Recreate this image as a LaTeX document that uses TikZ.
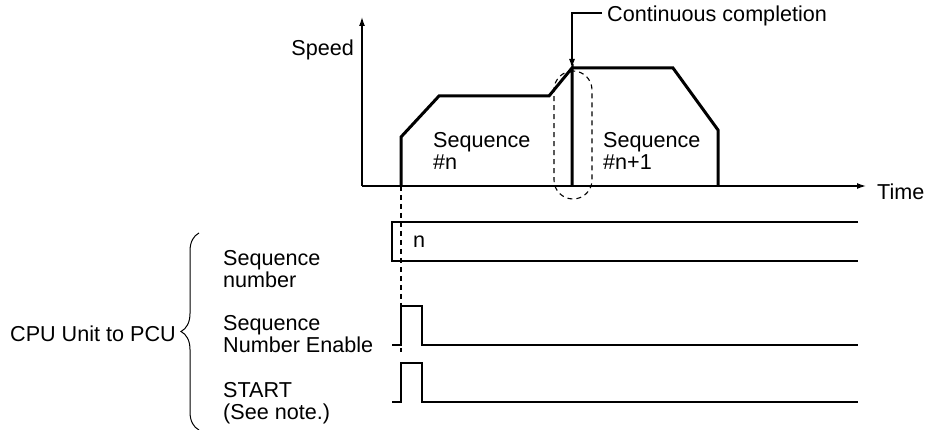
\documentclass[tikz,border=0pt]{standalone}
\usepackage{fontspec}
\setmainfont{Liberation Sans}
\usetikzlibrary{arrows.meta,decorations.pathreplacing,shapes.geometric}
\begin{document}
\begin{tikzpicture}[x=1pt,y=-1pt,
  lbl/.style={font=\fontsize{21.6}{22.5}\selectfont, inner sep=0pt, align=left},
  axis/.style={line width=1.3pt, -{Latex[length=9pt,width=6pt]}},
  thick/.style={line width=3pt, line join=miter},
  thin/.style={line width=1.2pt},
  dashln/.style={line width=1.1pt, dash pattern=on 5pt off 4pt},
]
\useasboundingbox (0,0) rectangle (935,430);
% axes
\coordinate (o) at (362,186);
\coordinate (ytop) at (362,17);
\coordinate (xend) at (866,186);
\draw[axis] (o) -- (ytop);
\draw[axis] (o) -- (xend);
\node[lbl, anchor=east] (speed) at (354,50) {Speed};
\node[lbl, anchor=west] (time) at (877,192) {Time};
% speed profile
\coordinate (p0) at (401,186);
\coordinate (p1) at (401,137);
\coordinate (p2) at (439,96);
\coordinate (p3) at (549,96);
\coordinate (p4) at (572,68);
\coordinate (p5) at (572,186);
\coordinate (q1) at (673,68);
\coordinate (q2) at (718,130);
\coordinate (q3) at (718,186);
\draw[thick] (p0) -- (p1) -- (p2) -- (p3) -- (p4) -- (p5);
\draw[thick] (p4) -- (q1) -- (q2) -- (q3);
\node[lbl, anchor=north west] (seqn) at (433,132) {Sequence\\\#n};
\node[lbl, anchor=north west] (seqn1) at (603,132) {Sequence\\\#n+1};
% continuous completion
\node[lbl, anchor=west] (cc) at (607,16) {Continuous completion};
\coordinate (ccs) at (602,13);
\coordinate (ccc) at (572,13);
\draw[thin, -{Latex[length=9pt,width=6pt]}] (ccs) -- (ccc) -- (p4);
\node[draw, dashln, rectangle, rounded corners=19pt, minimum width=38pt, minimum height=128pt, inner sep=0pt] (circ) at (573,135) {};
% sequence number bus
\coordinate (b1) at (392,222);
\coordinate (b2) at (858,222);
\coordinate (b3) at (392,261);
\coordinate (b4) at (858,261);
\draw[thin] (b2) -- (b1) -- (b3) -- (b4);
\node[lbl, anchor=west] (n) at (413,242) {n};
% pulses
\coordinate (s0) at (392,345);
\coordinate (s1) at (401,345);
\coordinate (s2) at (401,306);
\coordinate (s3) at (422,306);
\coordinate (s4) at (422,345);
\coordinate (s5) at (858,345);
\draw[thick, line width=2.6pt] (s0) -- (s1) -- (s2) -- (s3) -- (s4) -- (s5);
\coordinate (t0) at (392,402);
\coordinate (t1) at (401,402);
\coordinate (t2) at (401,363);
\coordinate (t3) at (422,363);
\coordinate (t4) at (422,402);
\coordinate (t5) at (858,402);
\draw[thick, line width=2.6pt] (t0) -- (t1) -- (t2) -- (t3) -- (t4) -- (t5);
% dashed guide
\coordinate (dend) at (401,352);
\draw[dashln] (p0) -- (dend);
% left labels
\node[lbl, anchor=west] (l1) at (223,269) {Sequence\\number};
\node[lbl, anchor=west] (l2) at (223,334) {Sequence\\Number Enable};
\node[lbl, anchor=west] (l3) at (223,403) {START\\(See note.)};
\coordinate (br1) at (199,430);
\coordinate (br2) at (199,233);
\draw[line width=1pt, decorate, decoration={brace, amplitude=18pt}] (br1) -- (br2);
\node[lbl, anchor=east] (cpu) at (176,334) {CPU Unit to PCU};
\end{tikzpicture}
\end{document}
